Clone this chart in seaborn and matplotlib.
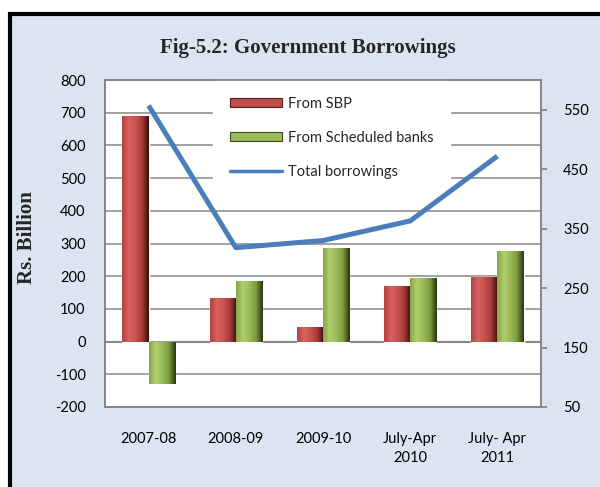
import numpy as np
import pandas as pd
import matplotlib
matplotlib.use("Agg")
import matplotlib.pyplot as plt
import seaborn as sns
from matplotlib.patches import Rectangle, Patch
from matplotlib.lines import Line2D
from matplotlib.colors import LinearSegmentedColormap

categories = ["2007-08", "2008-09", "2009-10", "July-Apr\n2010", "July- Apr\n2011"]
from_sbp = [690, 133, 44, 171, 197]
from_banks = [-130, 186, 287, 194, 277]
total_borrowings = [557, 318, 330, 363, 472]
series_names = ["From SBP", "From Scheduled banks", "Total borrowings"]
left_ticks = [-200, -100, 0, 100, 200, 300, 400, 500, 600, 700, 800]
right_ticks = [50, 150, 250, 350, 450, 550]

sns.set_theme(style="white")
plt.rcParams["font.family"] = ["Lato", "DejaVu Sans"]
plt.rcParams["axes.unicode_minus"] = False

df = pd.DataFrame({
    "cat": categories * 2,
    "val": from_sbp + from_banks,
    "series": [series_names[0]] * len(categories) + [series_names[1]] * len(categories),
})

red, green, blue = "#c0504d", "#9bbb59", "#4a7ebb"
grid_c = "#868686"
fs = 10.5

fig = plt.figure(figsize=(6.0, 4.87), dpi=100, facecolor="white")
bg = Rectangle((0.0167, -0.2), 1.2, 0.971 + 0.2, transform=fig.transFigure,
               facecolor="#dbe5f1", edgecolor="black", linewidth=3, zorder=-10)
fig.add_artist(bg)

ax = fig.add_axes([0.175, 0.1643, 0.7267, 0.6714])
ax.set_facecolor("white")
sns.barplot(data=df, x="cat", y="val", hue="series", palette=[red, green],
            width=0.6, ax=ax, legend=False, saturation=1, zorder=3)

# 3D-like shading of the bars
cmaps = {
    red: LinearSegmentedColormap.from_list("r", ["#b5403d", "#d8625f", "#c9524f", "#a53c39", "#3a0f0e"]),
    green: LinearSegmentedColormap.from_list("g", ["#86a548", "#b0cf6d", "#9bbb59", "#7d9a40", "#2a360f"]),
}
grad = np.linspace(0, 1, 64)[np.newaxis, :]
for p in list(ax.patches):
    fc = matplotlib.colors.to_hex(p.get_facecolor())
    cm = cmaps.get(fc)
    if cm is None:
        continue
    x, y, w, h = p.get_x(), p.get_y(), p.get_width(), p.get_height()
    if w == 0 or h == 0:
        continue
    im = ax.imshow(grad, cmap=cm, aspect="auto", extent=(x, x + w, y, y + h),
                   zorder=3.5, interpolation="bicubic")
    im.set_clip_path(p)

ax.set_xlim(-0.5, len(categories) - 0.5)
ax.set_ylim(-200, 800)
ax.set_yticks(left_ticks)
ax.grid(axis="y", color=grid_c, linewidth=1.1, zorder=0)
ax.axhline(0, color=grid_c, linewidth=1.5, zorder=2)
ax.set_axisbelow(True)
for s in ax.spines.values():
    s.set_color(grid_c)
    s.set_linewidth(1.3)
ax.tick_params(axis="y", length=0, pad=14, labelsize=fs, labelcolor="black")
ax.tick_params(axis="x", length=0, pad=18, labelsize=fs, labelcolor="black")
for t in ax.get_xticklabels():
    t.set_linespacing(1.45)
ax.set_xlabel("")
ax.set_ylabel("")
fig.text(26.7 / 600, 1 - 238 / 487, "Rs. Billion", family="Liberation Serif",
         fontweight="bold", fontsize=15, rotation=90, ha="center", va="center")

handles = [Patch(facecolor=red, edgecolor="#5a1a1a", linewidth=0.8),
           Patch(facecolor=green, edgecolor="#3a4a1a", linewidth=0.8),
           Line2D([0], [0], color=blue, linewidth=2.5)]
leg = ax.legend(handles, series_names, loc="upper left",
                bbox_to_anchor=(0.248, 1.0), frameon=True, fontsize=fs,
                handlelength=3.6, handleheight=0.55, labelspacing=1.38,
                handletextpad=0.35, borderpad=1.15, borderaxespad=0,
                fancybox=False)
leg.get_frame().set_facecolor("white")
leg.get_frame().set_edgecolor("white")
leg.get_frame().set_alpha(1)
leg.set_zorder(10)

ax2 = ax.twinx()
ax2.plot(np.arange(len(categories)), total_borrowings, color=blue, linewidth=3.6,
         solid_capstyle="butt", zorder=5)
ax2.set_ylim(50, 600)
ax2.set_yticks(right_ticks)
ax2.tick_params(axis="y", right=True, length=4, width=1.3, color=grid_c,
                pad=12, labelsize=fs, labelcolor="black")
for s in ax2.spines.values():
    s.set_color(grid_c)
    s.set_linewidth(1.3)
ax2.grid(False)

fig.text(308 / 600, 1 - 53.5 / 487, "Fig-5.2: Government Borrowings",
         family="Liberation Serif", fontweight="bold", fontsize=15,
         ha="center", va="baseline")

fig.savefig("out.png", dpi=100, facecolor=fig.get_facecolor())
